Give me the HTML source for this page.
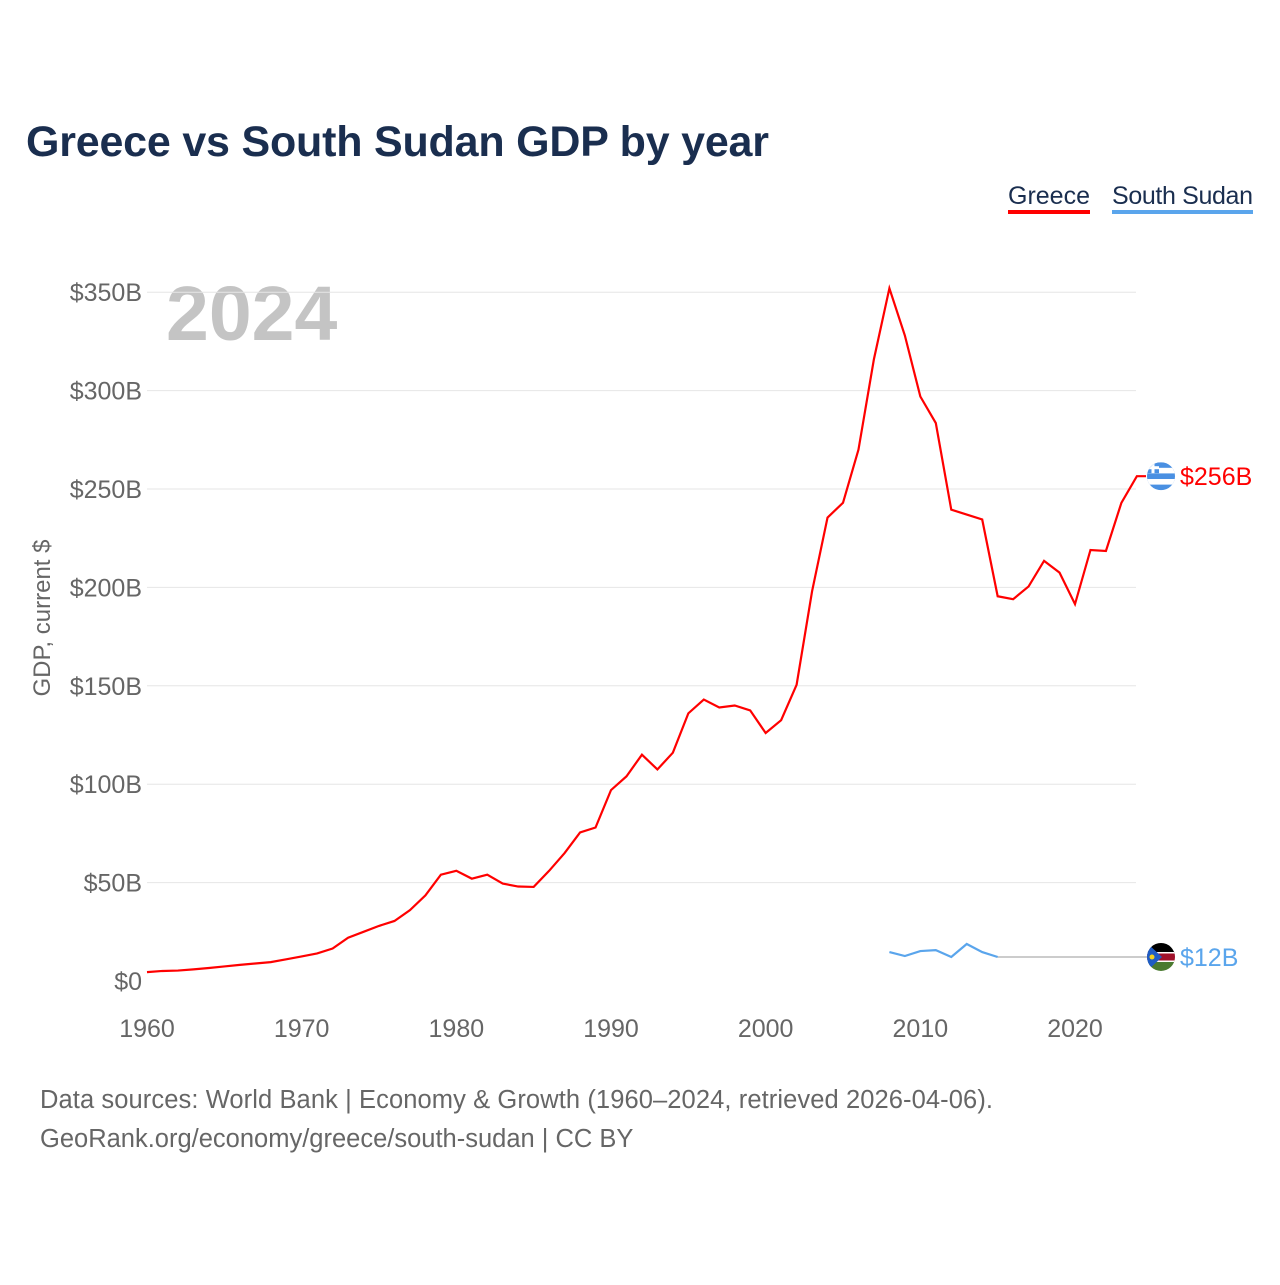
<!DOCTYPE html>
<html><head><meta charset="utf-8"><style>
body{margin:0;background:#fff;font-family:"Liberation Sans",sans-serif}
</style></head><body>
<svg id="chart" width="1280" height="1280" xmlns="http://www.w3.org/2000/svg">
<text x="26" y="156" font-size="43" font-weight="bold" fill="#1a2e4f" textLength="743">Greece vs South Sudan GDP by year</text>
<g><text x="1008" y="204" font-size="25" fill="#1a2e4f">Greece</text><rect x="1008" y="210" width="82" height="4" fill="#ff0000"/></g>
<g><text x="1112" y="204" font-size="25" fill="#1a2e4f" textLength="141">South Sudan</text><rect x="1112" y="210" width="141" height="4" fill="#5aa5ec"/></g>
<text x="166" y="340" font-size="77" font-weight="bold" fill="#c4c4c4">2024</text>
<text transform="translate(50,618) rotate(-90)" text-anchor="middle" font-size="24" fill="#666">GDP, current $</text>
<g id="grid"></g><g id="yt"></g><g id="xt"></g><g id="lines"></g>
<text x="40" y="1108" font-size="25.5" fill="#666" textLength="953">Data sources: World Bank | Economy &amp; Growth (1960–2024, retrieved 2026-04-06).</text>
<text x="40" y="1147" font-size="25.5" fill="#666">GeoRank.org/economy/greece/south-sudan | CC BY</text>
</svg>
<script>
const years=[];for(let y=1960;y<=2024;y++)years.push(y);
const greece=[4.5,5.1,5.3,5.9,6.6,7.4,8.2,8.9,9.6,11,12.5,14,16.5,22,25,28,30.5,36,43.5,54,56,52,54,49.5,48,47.8,56,65,75.5,78,97,104,115,107.5,116,136,143,139,140,137.5,126,132.5,150.5,198,235.5,243,270,316,352,328,297,283.5,239.5,237,234.5,195.5,194,200.5,213.5,207.5,191.5,219,218.5,243,256.5];
const ssYears=[2008,2009,2010,2011,2012,2013,2014,2015];
const southSudan=[14.7,12.7,15.2,15.7,12.2,18.8,14.7,12.2];
const yTicks=[0,50,100,150,200,250,300,350];
const xTicks=[1960,1970,1980,1990,2000,2010,2020];
const X=y=>147+(y-1960)*928/60, Y=v=>981-v*98.4/50;
const NS="http://www.w3.org/2000/svg";
function mk(t,a,p){const e=document.createElementNS(NS,t);for(const k in a)e.setAttribute(k,a[k]);document.getElementById(p).appendChild(e);return e;}
yTicks.forEach(v=>{
 if(v>0){const l=mk('line',{x1:147,x2:1136,y1:Y(v),y2:Y(v),stroke:'#e6e6e6','stroke-width':1},'grid');
 
 }
 const t=mk('text',{x:142,y:Y(v)+9,'text-anchor':'end','font-size':25,fill:'#666'},'yt');t.textContent='$'+v+(v?'B':'');
 
 
});
xTicks.forEach(v=>{const t=mk('text',{x:X(v),y:1037,'text-anchor':'middle','font-size':25,fill:'#666'},'xt');t.textContent=v;
 
 });
const gp=greece.map((v,i)=>(i?'L':'M')+X(years[i])+','+Y(v)).join('')+'L1146,'+Y(greece[greece.length-1]);
const g=mk('path',{d:gp,fill:'none',stroke:'#ff0000','stroke-width':2.2},'lines');


const s=mk('path',{d:southSudan.map((v,i)=>(i?'L':'M')+X(ssYears[i])+','+Y(v)).join(''),fill:'none',stroke:'#5aa5ec','stroke-width':2.2},'lines');


const last=southSudan[southSudan.length-1];
const c=mk('line',{x1:X(2015),y1:Y(last),x2:1150,y2:Y(last),stroke:'#999','stroke-width':1},'lines');


const gy=Y(greece[greece.length-1]);
const f1=mk('g',{},'lines');f1.innerHTML=`<clipPath id="c1"><circle cx="1161" cy="${gy}" r="14"/></clipPath><g clip-path="url(#c1)"><rect x="1147" y="${gy-14}" width="28" height="28" fill="#4a90e2"/>${[1,3].map(i=>`<rect x="1147" y="${gy-14+i*5.6}" width="28" height="5.6" fill="#fff"/>`).join('')}<rect x="1147" y="${gy-14}" width="12" height="11" fill="#4a90e2"/><rect x="1147" y="${gy-10}" width="12" height="3" fill="#fff"/><rect x="1151.5" y="${gy-14}" width="3" height="11" fill="#fff"/></g>`;


const t1=mk('text',{x:1180,y:gy+9,'font-size':25,fill:'#ff0000'},'lines');t1.textContent='$256B';


const sy=Y(last);
const f2=mk('g',{},'lines');f2.innerHTML=`<clipPath id="c2"><circle cx="1161" cy="${sy}" r="14"/></clipPath><g clip-path="url(#c2)"><rect x="1147" y="${sy-14}" width="28" height="10" fill="#000"/><rect x="1147" y="${sy-4}" width="28" height="8" fill="#a0102a"/><rect x="1147" y="${sy+4}" width="28" height="10" fill="#4a7a30"/><rect x="1147" y="${sy-5}" width="28" height="1.5" fill="#fff"/><rect x="1147" y="${sy+3.5}" width="28" height="1.5" fill="#fff"/><polygon points="1147,${sy-14} 1162,${sy} 1147,${sy+14}" fill="#1f5cc4"/><circle cx="1152" cy="${sy}" r="2.5" fill="#f4d21e"/></g>`;


const t2=mk('text',{x:1180,y:sy+9,'font-size':25,fill:'#5aa5ec'},'lines');t2.textContent='$12B';


</script>
</body></html>
